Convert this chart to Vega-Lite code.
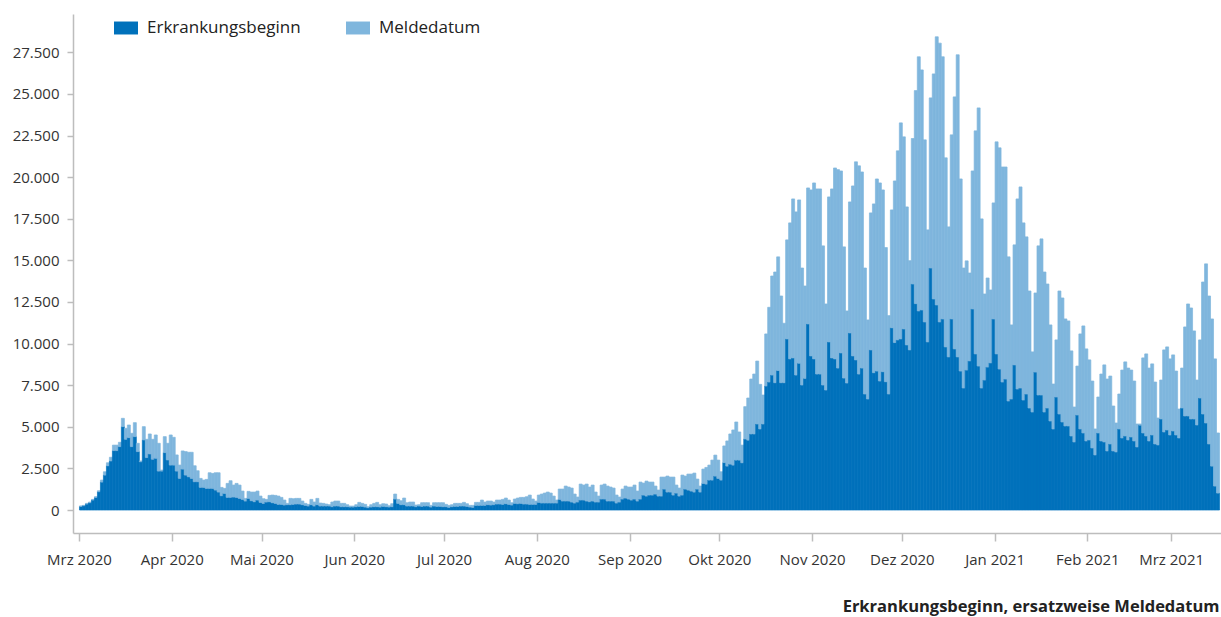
{
"$schema": "https://vega.github.io/schema/vega-lite/v6.json",
"width": 1148, "height": 519,
"autosize": {"type": "none"},
"padding": {"left": 73, "top": 14, "right": 0, "bottom": 84},
"background": "white",
"data": {"values": [
{"d":"2020-03-01","E":220,"M":20},{"d":"2020-03-02","E":260,"M":20},{"d":"2020-03-03","E":360,"M":40},{"d":"2020-03-04","E":440,"M":40},{"d":"2020-03-05","E":600,"M":40},{"d":"2020-03-06","E":760,"M":40},{"d":"2020-03-07","E":1100,"M":60},{"d":"2020-03-08","E":1680,"M":120},{"d":"2020-03-09","E":2100,"M":200},{"d":"2020-03-10","E":2660,"M":180},{"d":"2020-03-11","E":2950,"M":220},{"d":"2020-03-12","E":3570,"M":330},{"d":"2020-03-13","E":3570,"M":330},{"d":"2020-03-14","E":3810,"M":260},{"d":"2020-03-15","E":5010,"M":500},{"d":"2020-03-16","E":4250,"M":660},{"d":"2020-03-17","E":4350,"M":760},{"d":"2020-03-18","E":3810,"M":800},{"d":"2020-03-19","E":4410,"M":840},{"d":"2020-03-20","E":3510,"M":500},{"d":"2020-03-21","E":2900,"M":50},{"d":"2020-03-22","E":4210,"M":800},{"d":"2020-03-23","E":3150,"M":1100},{"d":"2020-03-24","E":3370,"M":1200},{"d":"2020-03-25","E":3050,"M":1200},{"d":"2020-03-26","E":3110,"M":1400},{"d":"2020-03-27","E":2340,"M":1670},{"d":"2020-03-28","E":2340,"M":60},{"d":"2020-03-29","E":3450,"M":960},{"d":"2020-03-30","E":3010,"M":1000},{"d":"2020-03-31","E":2700,"M":1810},
{"d":"2020-04-01","E":2700,"M":1670},{"d":"2020-04-02","E":2340,"M":970},{"d":"2020-04-03","E":1900,"M":800},{"d":"2020-04-04","E":2460,"M":1090},{"d":"2020-04-05","E":2100,"M":1410},{"d":"2020-04-06","E":2000,"M":1470},{"d":"2020-04-07","E":1900,"M":1570},{"d":"2020-04-08","E":1700,"M":960},{"d":"2020-04-09","E":1700,"M":660},{"d":"2020-04-10","E":1360,"M":540},{"d":"2020-04-11","E":1360,"M":440},{"d":"2020-04-12","E":1300,"M":540},{"d":"2020-04-13","E":1300,"M":940},{"d":"2020-04-14","E":1300,"M":900},{"d":"2020-04-15","E":1200,"M":1040},{"d":"2020-04-16","E":1080,"M":1160},{"d":"2020-04-17","E":860,"M":500},{"d":"2020-04-18","E":1000,"M":300},{"d":"2020-04-19","E":760,"M":840},{"d":"2020-04-20","E":760,"M":1000},{"d":"2020-04-21","E":780,"M":720},{"d":"2020-04-22","E":760,"M":840},{"d":"2020-04-23","E":700,"M":800},{"d":"2020-04-24","E":640,"M":500},{"d":"2020-04-25","E":540,"M":160},{"d":"2020-04-26","E":700,"M":420},{"d":"2020-04-27","E":560,"M":520},{"d":"2020-04-28","E":500,"M":580},{"d":"2020-04-29","E":600,"M":540},{"d":"2020-04-30","E":460,"M":380},
{"d":"2020-05-01","E":400,"M":280},{"d":"2020-05-02","E":480,"M":160},{"d":"2020-05-03","E":500,"M":380},{"d":"2020-05-04","E":440,"M":460},{"d":"2020-05-05","E":400,"M":480},{"d":"2020-05-06","E":340,"M":500},{"d":"2020-05-07","E":340,"M":420},{"d":"2020-05-08","E":300,"M":300},{"d":"2020-05-09","E":320,"M":80},{"d":"2020-05-10","E":320,"M":380},{"d":"2020-05-11","E":340,"M":340},{"d":"2020-05-12","E":360,"M":340},{"d":"2020-05-13","E":360,"M":340},{"d":"2020-05-14","E":320,"M":220},{"d":"2020-05-15","E":280,"M":120},{"d":"2020-05-16","E":240,"M":100},{"d":"2020-05-17","E":320,"M":320},{"d":"2020-05-18","E":240,"M":240},{"d":"2020-05-19","E":320,"M":380},{"d":"2020-05-20","E":240,"M":180},{"d":"2020-05-21","E":240,"M":160},{"d":"2020-05-22","E":240,"M":120},{"d":"2020-05-23","E":240,"M":80},{"d":"2020-05-24","E":200,"M":280},{"d":"2020-05-25","E":240,"M":300},{"d":"2020-05-26","E":240,"M":300},{"d":"2020-05-27","E":200,"M":200},{"d":"2020-05-28","E":200,"M":200},{"d":"2020-05-29","E":200,"M":120},{"d":"2020-05-30","E":180,"M":60},{"d":"2020-05-31","E":180,"M":60},
{"d":"2020-06-01","E":200,"M":120},{"d":"2020-06-02","E":220,"M":240},{"d":"2020-06-03","E":220,"M":180},{"d":"2020-06-04","E":180,"M":160},{"d":"2020-06-05","E":140,"M":60},{"d":"2020-06-06","E":180,"M":140},{"d":"2020-06-07","E":200,"M":200},{"d":"2020-06-08","E":200,"M":260},{"d":"2020-06-09","E":180,"M":140},{"d":"2020-06-10","E":220,"M":160},{"d":"2020-06-11","E":200,"M":160},{"d":"2020-06-12","E":180,"M":80},{"d":"2020-06-13","E":200,"M":180},{"d":"2020-06-14","E":660,"M":300},{"d":"2020-06-15","E":400,"M":240},{"d":"2020-06-16","E":320,"M":240},{"d":"2020-06-17","E":320,"M":400},{"d":"2020-06-18","E":240,"M":200},{"d":"2020-06-19","E":240,"M":240},{"d":"2020-06-20","E":240,"M":240},{"d":"2020-06-21","E":200,"M":100},{"d":"2020-06-22","E":240,"M":80},{"d":"2020-06-23","E":220,"M":220},{"d":"2020-06-24","E":240,"M":200},{"d":"2020-06-25","E":240,"M":200},{"d":"2020-06-26","E":180,"M":100},{"d":"2020-06-27","E":240,"M":200},{"d":"2020-06-28","E":220,"M":220},{"d":"2020-06-29","E":220,"M":220},{"d":"2020-06-30","E":200,"M":240},
{"d":"2020-07-01","E":200,"M":140},{"d":"2020-07-02","E":160,"M":120},{"d":"2020-07-03","E":200,"M":120},{"d":"2020-07-04","E":220,"M":180},{"d":"2020-07-05","E":220,"M":180},{"d":"2020-07-06","E":240,"M":160},{"d":"2020-07-07","E":240,"M":220},{"d":"2020-07-08","E":220,"M":160},{"d":"2020-07-09","E":180,"M":100},{"d":"2020-07-10","E":160,"M":120},{"d":"2020-07-11","E":280,"M":180},{"d":"2020-07-12","E":280,"M":180},{"d":"2020-07-13","E":280,"M":320},{"d":"2020-07-14","E":280,"M":200},{"d":"2020-07-15","E":320,"M":220},{"d":"2020-07-16","E":300,"M":240},{"d":"2020-07-17","E":320,"M":160},{"d":"2020-07-18","E":360,"M":240},{"d":"2020-07-19","E":360,"M":240},{"d":"2020-07-20","E":340,"M":300},{"d":"2020-07-21","E":380,"M":340},{"d":"2020-07-22","E":340,"M":260},{"d":"2020-07-23","E":300,"M":140},{"d":"2020-07-24","E":400,"M":260},{"d":"2020-07-25","E":380,"M":340},{"d":"2020-07-26","E":400,"M":360},{"d":"2020-07-27","E":360,"M":400},{"d":"2020-07-28","E":360,"M":440},{"d":"2020-07-29","E":340,"M":560},{"d":"2020-07-30","E":340,"M":320},{"d":"2020-07-31","E":340,"M":200},
{"d":"2020-08-01","E":460,"M":440},{"d":"2020-08-02","E":420,"M":540},{"d":"2020-08-03","E":420,"M":600},{"d":"2020-08-04","E":420,"M":660},{"d":"2020-08-05","E":420,"M":600},{"d":"2020-08-06","E":420,"M":420},{"d":"2020-08-07","E":420,"M":180},{"d":"2020-08-08","E":640,"M":620},{"d":"2020-08-09","E":540,"M":720},{"d":"2020-08-10","E":540,"M":900},{"d":"2020-08-11","E":540,"M":840},{"d":"2020-08-12","E":480,"M":840},{"d":"2020-08-13","E":420,"M":540},{"d":"2020-08-14","E":480,"M":300},{"d":"2020-08-15","E":600,"M":960},{"d":"2020-08-16","E":600,"M":900},{"d":"2020-08-17","E":540,"M":1020},{"d":"2020-08-18","E":500,"M":880},{"d":"2020-08-19","E":540,"M":960},{"d":"2020-08-20","E":480,"M":600},{"d":"2020-08-21","E":480,"M":360},{"d":"2020-08-22","E":660,"M":840},{"d":"2020-08-23","E":660,"M":900},{"d":"2020-08-24","E":540,"M":900},{"d":"2020-08-25","E":540,"M":840},{"d":"2020-08-26","E":540,"M":780},{"d":"2020-08-27","E":420,"M":480},{"d":"2020-08-28","E":480,"M":300},{"d":"2020-08-29","E":660,"M":600},{"d":"2020-08-30","E":720,"M":720},{"d":"2020-08-31","E":660,"M":720},
{"d":"2020-09-01","E":600,"M":780},{"d":"2020-09-02","E":660,"M":840},{"d":"2020-09-03","E":540,"M":600},{"d":"2020-09-04","E":660,"M":1020},{"d":"2020-09-05","E":900,"M":720},{"d":"2020-09-06","E":840,"M":900},{"d":"2020-09-07","E":900,"M":780},{"d":"2020-09-08","E":900,"M":780},{"d":"2020-09-09","E":960,"M":480},{"d":"2020-09-10","E":840,"M":360},{"d":"2020-09-11","E":840,"M":1140},{"d":"2020-09-12","E":1260,"M":720},{"d":"2020-09-13","E":1080,"M":960},{"d":"2020-09-14","E":1080,"M":900},{"d":"2020-09-15","E":900,"M":1080},{"d":"2020-09-16","E":1020,"M":480},{"d":"2020-09-17","E":840,"M":480},{"d":"2020-09-18","E":900,"M":1200},{"d":"2020-09-19","E":1260,"M":780},{"d":"2020-09-20","E":1200,"M":960},{"d":"2020-09-21","E":1140,"M":1020},{"d":"2020-09-22","E":1080,"M":1140},{"d":"2020-09-23","E":1260,"M":600},{"d":"2020-09-24","E":1080,"M":360},{"d":"2020-09-25","E":1600,"M":860},{"d":"2020-09-26","E":1560,"M":1000},{"d":"2020-09-27","E":1800,"M":900},{"d":"2020-09-28","E":1800,"M":1200},{"d":"2020-09-29","E":2040,"M":1260},{"d":"2020-09-30","E":1900,"M":1100},
{"d":"2020-10-01","E":1800,"M":500},{"d":"2020-10-02","E":2850,"M":1000},{"d":"2020-10-03","E":2640,"M":1510},{"d":"2020-10-04","E":2760,"M":1810},{"d":"2020-10-05","E":2700,"M":2110},{"d":"2020-10-06","E":3000,"M":2290},{"d":"2020-10-07","E":3000,"M":1690},{"d":"2020-10-08","E":2840,"M":1060},{"d":"2020-10-09","E":4270,"M":1940},{"d":"2020-10-10","E":4200,"M":2530},{"d":"2020-10-11","E":4570,"M":3300},{"d":"2020-10-12","E":4570,"M":3600},{"d":"2020-10-13","E":5170,"M":3780},{"d":"2020-10-14","E":4870,"M":2680},{"d":"2020-10-15","E":5170,"M":1740},{"d":"2020-10-16","E":7450,"M":3130},{"d":"2020-10-17","E":7690,"M":4490},{"d":"2020-10-18","E":8110,"M":5950},{"d":"2020-10-19","E":7650,"M":6650},{"d":"2020-10-20","E":8380,"M":6830},{"d":"2020-10-21","E":7650,"M":5210},{"d":"2020-10-22","E":7650,"M":3570},{"d":"2020-10-23","E":10280,"M":5950},{"d":"2020-10-24","E":9080,"M":8170},{"d":"2020-10-25","E":9140,"M":9550},{"d":"2020-10-26","E":8110,"M":9800},{"d":"2020-10-27","E":8820,"M":9810},{"d":"2020-10-28","E":7510,"M":7030},{"d":"2020-10-29","E":7910,"M":5550},{"d":"2020-10-30","E":11180,"M":8170},{"d":"2020-10-31","E":9260,"M":9970},
{"d":"2020-11-01","E":9080,"M":10570},{"d":"2020-11-02","E":8170,"M":11120},{"d":"2020-11-03","E":8170,"M":11120},{"d":"2020-11-04","E":7510,"M":8360},{"d":"2020-11-05","E":7210,"M":5170},{"d":"2020-11-06","E":10100,"M":8710},{"d":"2020-11-07","E":9140,"M":10150},{"d":"2020-11-08","E":9080,"M":11470},{"d":"2020-11-09","E":8530,"M":11920},{"d":"2020-11-10","E":9440,"M":10930},{"d":"2020-11-11","E":7930,"M":7880},{"d":"2020-11-12","E":7630,"M":4330},{"d":"2020-11-13","E":10640,"M":7870},{"d":"2020-11-14","E":9260,"M":10210},{"d":"2020-11-15","E":9020,"M":11900},{"d":"2020-11-16","E":8170,"M":12510},{"d":"2020-11-17","E":8530,"M":11780},{"d":"2020-11-18","E":6970,"M":7570},{"d":"2020-11-19","E":6670,"M":4750},{"d":"2020-11-20","E":9620,"M":8230},{"d":"2020-11-21","E":8250,"M":10140},{"d":"2020-11-22","E":8350,"M":11540},{"d":"2020-11-23","E":7750,"M":11900},{"d":"2020-11-24","E":8310,"M":10920},{"d":"2020-11-25","E":7710,"M":8060},{"d":"2020-11-26","E":6970,"M":4710},{"d":"2020-11-27","E":10950,"M":7080},{"d":"2020-11-28","E":10060,"M":9710},{"d":"2020-11-29","E":10220,"M":11360},{"d":"2020-11-30","E":10280,"M":12980},
{"d":"2020-12-01","E":10880,"M":11540},{"d":"2020-12-02","E":9920,"M":8290},{"d":"2020-12-03","E":9620,"M":5360},{"d":"2020-12-04","E":13580,"M":8740},{"d":"2020-12-05","E":12400,"M":12800},{"d":"2020-12-06","E":11960,"M":15270},{"d":"2020-12-07","E":12020,"M":14420},{"d":"2020-12-08","E":11300,"M":10940},{"d":"2020-12-09","E":10100,"M":6730},{"d":"2020-12-10","E":14540,"M":10220},{"d":"2020-12-11","E":12680,"M":13520},{"d":"2020-12-12","E":12320,"M":16110},{"d":"2020-12-13","E":11300,"M":16750},{"d":"2020-12-14","E":11480,"M":15750},{"d":"2020-12-15","E":9800,"M":11360},{"d":"2020-12-16","E":9200,"M":7810},{"d":"2020-12-17","E":11480,"M":11060},{"d":"2020-12-18","E":9680,"M":15140},{"d":"2020-12-19","E":9200,"M":18150},{"d":"2020-12-20","E":8350,"M":11540},{"d":"2020-12-21","E":7330,"M":7210},{"d":"2020-12-22","E":8410,"M":6560},{"d":"2020-12-23","E":8960,"M":5280},{"d":"2020-12-24","E":12080,"M":8290},{"d":"2020-12-25","E":9380,"M":13400},{"d":"2020-12-26","E":8650,"M":15510},{"d":"2020-12-27","E":7330,"M":10160},{"d":"2020-12-28","E":7810,"M":5170},{"d":"2020-12-29","E":8590,"M":5350},{"d":"2020-12-30","E":8840,"M":4380},{"d":"2020-12-31","E":11480,"M":6970},
{"d":"2021-01-01","E":9380,"M":12740},{"d":"2021-01-02","E":8470,"M":13290},{"d":"2021-01-03","E":7690,"M":12920},{"d":"2021-01-04","E":7870,"M":12740},{"d":"2021-01-05","E":6550,"M":8660},{"d":"2021-01-06","E":6670,"M":4450},{"d":"2021-01-07","E":8720,"M":7210},{"d":"2021-01-08","E":7270,"M":11420},{"d":"2021-01-09","E":7330,"M":12080},{"d":"2021-01-10","E":6610,"M":10640},{"d":"2021-01-11","E":6970,"M":9440},{"d":"2021-01-12","E":6130,"M":7030},{"d":"2021-01-13","E":5890,"M":3610},{"d":"2021-01-14","E":8290,"M":4750},{"d":"2021-01-15","E":6910,"M":8960},{"d":"2021-01-16","E":6910,"M":9380},{"d":"2021-01-17","E":5890,"M":8410},{"d":"2021-01-18","E":6130,"M":7450},{"d":"2021-01-19","E":5350,"M":5770},{"d":"2021-01-20","E":4870,"M":2700},{"d":"2021-01-21","E":6790,"M":3430},{"d":"2021-01-22","E":5770,"M":7390},{"d":"2021-01-23","E":5290,"M":7450},{"d":"2021-01-24","E":5050,"M":6430},{"d":"2021-01-25","E":5050,"M":6310},{"d":"2021-01-26","E":4450,"M":5110},{"d":"2021-01-27","E":4090,"M":2100},{"d":"2021-01-28","E":5710,"M":2940},{"d":"2021-01-29","E":4870,"M":5710},{"d":"2021-01-30","E":4630,"M":6430},{"d":"2021-01-31","E":4150,"M":5530},
{"d":"2021-02-01","E":4210,"M":4810},{"d":"2021-02-02","E":3730,"M":4020},{"d":"2021-02-03","E":3310,"M":1560},{"d":"2021-02-04","E":4630,"M":2160},{"d":"2021-02-05","E":4150,"M":4020},{"d":"2021-02-06","E":4090,"M":4630},{"d":"2021-02-07","E":3550,"M":4320},{"d":"2021-02-08","E":3970,"M":4080},{"d":"2021-02-09","E":3550,"M":2700},{"d":"2021-02-10","E":3490,"M":1740},{"d":"2021-02-11","E":4870,"M":2100},{"d":"2021-02-12","E":4330,"M":4080},{"d":"2021-02-13","E":4450,"M":4450},{"d":"2021-02-14","E":4210,"M":4320},{"d":"2021-02-15","E":4390,"M":4020},{"d":"2021-02-16","E":4150,"M":3600},{"d":"2021-02-17","E":3790,"M":1380},{"d":"2021-02-18","E":5100,"M":70},{"d":"2021-02-19","E":4630,"M":4510},{"d":"2021-02-20","E":4450,"M":4930},{"d":"2021-02-21","E":4150,"M":4380},{"d":"2021-02-22","E":4510,"M":4270},{"d":"2021-02-23","E":3970,"M":3720},{"d":"2021-02-24","E":3910,"M":1620},{"d":"2021-02-25","E":5470,"M":2340},{"d":"2021-02-26","E":4690,"M":4930},{"d":"2021-02-27","E":4810,"M":4990},{"d":"2021-02-28","E":4510,"M":4570},
{"d":"2021-03-01","E":4750,"M":4570},{"d":"2021-03-02","E":4510,"M":3840},{"d":"2021-03-03","E":4330,"M":1740},{"d":"2021-03-04","E":6130,"M":2400},{"d":"2021-03-05","E":5650,"M":5350},{"d":"2021-03-06","E":5650,"M":6730},{"d":"2021-03-07","E":5470,"M":6670},{"d":"2021-03-08","E":5470,"M":5290},{"d":"2021-03-09","E":5110,"M":2700},{"d":"2021-03-10","E":6730,"M":3490},{"d":"2021-03-11","E":5770,"M":7930},{"d":"2021-03-12","E":5230,"M":9560},{"d":"2021-03-13","E":3970,"M":8890},{"d":"2021-03-14","E":2640,"M":8840},{"d":"2021-03-15","E":1440,"M":7640},{"d":"2021-03-16","E":1020,"M":3610}
]},
"transform": [{"fold": ["E", "M"], "as": ["serie", "wert"]}],
"mark": {"type": "bar", "binSpacing": 0, "strokeWidth": 0.7},
"encoding": {
  "x": {"field": "d", "type": "temporal", "timeUnit": "utcyearmonthdate",
    "scale": {"type": "utc", "domain": [{"year": 2020, "month": 2, "date": 28, "utc": true}, {"year": 2021, "month": 3, "date": 17, "hours": 16, "utc": true}]},
    "axis": {
      "values": [{"year":2020,"month":3,"date":1,"utc":true},{"year":2020,"month":4,"date":1,"utc":true},{"year":2020,"month":5,"date":1,"utc":true},{"year":2020,"month":6,"date":1,"utc":true},{"year":2020,"month":7,"date":1,"utc":true},{"year":2020,"month":8,"date":1,"utc":true},{"year":2020,"month":9,"date":1,"utc":true},{"year":2020,"month":10,"date":1,"utc":true},{"year":2020,"month":11,"date":1,"utc":true},{"year":2020,"month":12,"date":1,"utc":true},{"year":2021,"month":1,"date":1,"utc":true},{"year":2021,"month":2,"date":1,"utc":true},{"year":2021,"month":3,"date":1,"utc":true}],
      "format": "%b %Y", "labelFont": "Open Sans", "labelFontSize": 15, "labelColor": "#333333",
      "labelFlush": false, "labelOverlap": false, "tickSize": 8, "tickColor": "#bdbdbd", "tickWidth": 1.5,
      "domainColor": "#bdbdbd", "domainWidth": 1.5, "labelPadding": 11, "grid": false,
      "title": "Erkrankungsbeginn, ersatzweise Meldedatum", "titleFont": "Open Sans", "titleFontSize": 16.5,
      "titleFontWeight": "bold", "titleColor": "#222222", "titleAnchor": "end", "titleAlign": "right",
      "titleX": 1146, "titleY": 73, "titleBaseline": "middle"
    }},
  "y": {"field": "wert", "type": "quantitative", "stack": "zero",
    "scale": {"domain": [-1380, 29800], "nice": false, "zero": false},
    "axis": {"values": [0, 2500, 5000, 7500, 10000, 12500, 15000, 17500, 20000, 22500, 25000, 27500],
      "format": ",.0f", "labelFont": "Open Sans", "labelFontSize": 15, "labelColor": "#333333",
      "tickSize": 6, "tickColor": "#bdbdbd", "tickWidth": 1.5, "domainColor": "#bdbdbd", "domainWidth": 1.5,
      "labelPadding": 8, "grid": false, "title": null}},
  "color": {"field": "serie", "type": "nominal",
    "scale": {"domain": ["E", "M"], "range": ["#0071BB", "#7FB6DD"]},
    "legend": {"title": null, "orient": "none", "legendX": 41, "legendY": 2, "direction": "horizontal",
      "symbolType": "M-1,-0.54H1V0.54H-1Z", "symbolSize": 576, "symbolStrokeWidth": 0,
      "labelFont": "Open Sans", "labelFontSize": 17, "labelColor": "#222222", "labelOffset": 9,
      "columnPadding": 45, "labelExpr": "datum.value == 'E' ? 'Erkrankungsbeginn' : 'Meldedatum'"}},
  "stroke": {"field": "serie", "type": "nominal",
    "scale": {"domain": ["E", "M"], "range": ["#0071BB", "#7FB6DD"]}, "legend": null},
  "order": {"field": "serie", "sort": "ascending"}
},
"config": {
  "view": {"stroke": null},
  "font": "Open Sans",
  "locale": {
    "number": {"decimal": ",", "thousands": ".", "grouping": [3], "currency": ["", " €"]},
    "time": {"dateTime": "%A, der %e. %B %Y, %X", "date": "%d.%m.%Y", "time": "%H:%M:%S", "periods": ["AM", "PM"],
      "days": ["Sonntag", "Montag", "Dienstag", "Mittwoch", "Donnerstag", "Freitag", "Samstag"],
      "shortDays": ["So", "Mo", "Di", "Mi", "Do", "Fr", "Sa"],
      "months": ["Januar", "Februar", "März", "April", "Mai", "Juni", "Juli", "August", "September", "Oktober", "November", "Dezember"],
      "shortMonths": ["Jan", "Feb", "Mrz", "Apr", "Mai", "Jun", "Jul", "Aug", "Sep", "Okt", "Nov", "Dez"]}
  }
}
}
